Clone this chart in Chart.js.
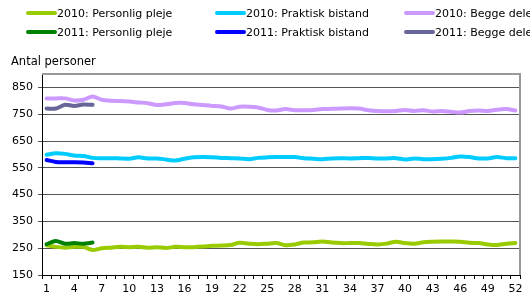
<!DOCTYPE html>
<html>
<head>
<meta charset="utf-8">
<script src="https://cdn.jsdelivr.net/npm/chart.js@4/dist/chart.umd.min.js"></script>
<style>
  html, body { margin: 0; padding: 0; background: #fff; }
  #wrap { width: 530px; height: 297px; position: relative; }
</style>
</head>
<body>
<div id="wrap"><canvas id="c" width="530" height="297"></canvas></div>
<script>
const weeks = Array.from({length: 52}, (_, i) => String(i + 1));
const yTicks = [150, 250, 350, 450, 550, 650, 750, 850];
const yTitle = 'Antal personer';

const labels2010PP = '2010: Personlig pleje';
const labels2010PB = '2010: Praktisk bistand';
const labels2010BD = '2010: Begge dele';
const labels2011PP = '2011: Personlig pleje';
const labels2011PB = '2011: Praktisk bistand';
const labels2011BD = '2011: Begge dele';

const pleje2010 = [261,255,252,255,255,243,250,252,255,254,255,252,254,251,255,254,254,256,259,260,262,270,267,265,267,269,261,264,271,272,275,271,269,269,269,266,264,267,274,269,267,272,274,275,275,274,270,269,264,262,267,269];
const bistand2010 = [599,604,602,596,594,587,586,586,585,584,589,585,585,581,577,584,589,590,589,587,586,585,582,587,589,590,590,590,586,584,582,585,586,585,586,587,585,585,586,581,585,582,582,584,587,592,590,585,585,590,586,586];
const begge2010 = [809,809,809,801,804,816,804,800,799,797,794,791,784,787,792,792,787,784,781,779,771,778,778,775,766,764,769,765,765,766,769,770,771,772,771,765,762,761,762,766,762,765,760,762,759,756,762,764,762,767,769,764];
const pleje2011 = [265,277,267,269,267,271];
const bistand2011 = [579,572,571,571,570,567];
const begge2011 = [771,771,785,781,786,785];

const colors = {
  pp10: '#99cc00', pb10: '#00ccff', bd10: '#cc99ff',
  pp11: '#008000', pb11: '#0000ff', bd11: '#666699'
};

function ds(label, data, color, order) {
  return { label, data, borderColor: color, backgroundColor: color, borderWidth: 4,
    pointRadius: 0, tension: 0.3, fill: false, order, borderCapStyle: 'round', borderJoinStyle: 'round' };
}

const datasets = [
  ds(labels2010PP, pleje2010, colors.pp10, 6),
  ds(labels2010PB, bistand2010, colors.pb10, 5),
  ds(labels2010BD, begge2010, colors.bd10, 4),
  ds(labels2011PP, pleje2011, colors.pp11, 3),
  ds(labels2011PB, bistand2011, colors.pb11, 2),
  ds(labels2011BD, begge2011, colors.bd11, 1)
];

const FONT = "'DejaVu Sans', Verdana, sans-serif";

const legendPlugin = {
  id: 'customLegend',
  afterDraw(chart) {
    const ctx = chart.ctx;
    ctx.save();
    const colX = [27, 216, 405];
    const rowY = [13, 32];
    chart.data.datasets.forEach((d, i) => {
      const col = i % 3, row = Math.floor(i / 3);
      const x = colX[col], y = rowY[row];
      ctx.strokeStyle = d.borderColor;
      ctx.lineWidth = 4;
      ctx.lineCap = 'round';
      ctx.beginPath();
      ctx.moveTo(x + 1, y);
      ctx.lineTo(x + 28, y);
      ctx.stroke();
      ctx.fillStyle = '#000';
      ctx.font = '11px ' + FONT;
      ctx.textBaseline = 'middle';
      ctx.textAlign = 'left';
      ctx.fillText(d.label, x + 30, y + 1);
    });
    ctx.font = '11.5px ' + FONT;
    ctx.textBaseline = 'middle';
    ctx.fillText(yTitle, 11, 62);
    // plot border top/right
    const a = chart.chartArea;
    ctx.strokeStyle = '#999';
    ctx.lineWidth = 2;
    ctx.lineCap = 'butt';
    ctx.beginPath();
    ctx.moveTo(a.left, a.top);
    ctx.lineTo(a.right, a.top);
    ctx.lineTo(a.right, a.bottom);
    ctx.stroke();
    ctx.restore();
  }
};

new Chart(document.getElementById('c'), {
  type: 'line',
  data: { labels: weeks, datasets },
  options: {
    responsive: false,
    animation: false,
    devicePixelRatio: 1,
    layout: { padding: { top: 74, right: 10, left: 0, bottom: 0 } },
    plugins: { legend: { display: false }, tooltip: { enabled: false }, title: { display: false } },
    scales: {
      x: {
        offset: true,
        grid: { offset: true, drawOnChartArea: false, drawTicks: true, tickLength: 4, color: '#000' },
        border: { color: '#000', width: 1 },
        ticks: {
          autoSkip: false, maxRotation: 0, minRotation: 0, padding: 4,
          color: '#000', font: { family: FONT, size: 11 },
          callback: (v, i) => (i % 3 === 0 ? weeks[i] : '')
        },
        afterFit: (s) => { s.height = 22; }
      },
      y: {
        min: 150, max: 900,
        afterBuildTicks: (s) => { s.ticks = yTicks.map(v => ({ value: v })); },
        grid: { color: '#555', lineWidth: 1, tickLength: 4, drawTicks: true },
        border: { color: '#000', width: 1 },
        ticks: { color: '#000', padding: 5, font: { family: FONT, size: 11 } },
        afterFit: (s) => { s.width = 42; }
      }
    }
  },
  plugins: [legendPlugin]
});
</script>
</body>
</html>
